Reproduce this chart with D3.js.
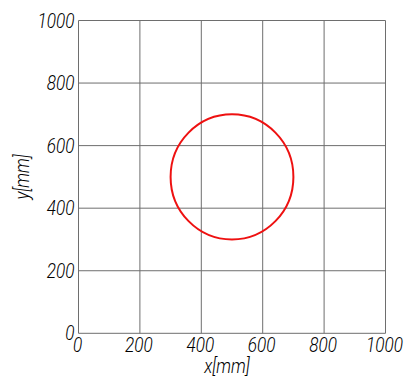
<!DOCTYPE html>
<html>
<head>
<meta charset="utf-8">
<script src="https://cdn.jsdelivr.net/npm/d3@7"></script>
<style>
	body { margin: 0; background: #fff; }
	svg text { font-family: Roboto, "DejaVu Sans Condensed", sans-serif; font-style: italic; font-weight: 300; fill: #000; }
</style>
</head>
<body>
<div id="content"></div>
<script>
// chart data
let X_TICKS = [0, 200, 400, 600, 800, 1000]
let Y_TICKS = [0, 200, 400, 600, 800, 1000]
let X_DOMAIN = [0, 1000]
let Y_DOMAIN = [0, 1000]
let CIRCLE_CENTER = [500, 500]
let CIRCLE_RADIUS = [200]
let X_LABEL = 'x[mm]'
let Y_LABEL = 'y[mm]'

let WIDTH = 408
let HEIGHT = 379
let PLOT = { left: 78.5, right: 385.5, top: 20.5, bottom: 333.3 }
let FONT_SIZE = 19.5
let SQUEEZE = 0.88

let svg = d3.select('#content').append('svg')
	.attr('width', WIDTH)
	.attr('height', HEIGHT)

let x = d3.scaleLinear().domain(X_DOMAIN).range([PLOT.left, PLOT.right])
let y = d3.scaleLinear().domain(Y_DOMAIN).range([PLOT.bottom, PLOT.top])

// grid
let grid = svg.append('g').attr('class', 'grid')
	.attr('stroke', '#6e6e6e')
	.attr('stroke-width', 1)

grid.selectAll('line.vx')
	.data(X_TICKS)
	.enter().append('line')
		.attr('class', 'vx')
		.attr('x1', (d) => { return x(d) })
		.attr('x2', (d) => { return x(d) })
		.attr('y1', y(Y_DOMAIN[0]))
		.attr('y2', y(Y_DOMAIN[1]))

grid.selectAll('line.hy')
	.data(Y_TICKS)
	.enter().append('line')
		.attr('class', 'hy')
		.attr('y1', (d) => { return y(d) })
		.attr('y2', (d) => { return y(d) })
		.attr('x1', x(X_DOMAIN[0]))
		.attr('x2', x(X_DOMAIN[1]))

// tick labels (narrowed a bit to look like the condensed drafting font)
svg.selectAll('text.xtick')
	.data(X_TICKS)
	.enter().append('text')
		.attr('class', 'xtick')
		.attr('transform', (d) => { return `translate(${x(d) - 1}, ${PLOT.bottom + 19}) scale(${SQUEEZE}, 1)` })
		.attr('text-anchor', 'middle')
		.style('font-size', `${FONT_SIZE}px`)
		.text((d) => { return d })

svg.selectAll('text.ytick')
	.data(Y_TICKS)
	.enter().append('text')
		.attr('class', 'ytick')
		.attr('transform', (d) => { return `translate(${PLOT.left - 4}, ${y(d)}) scale(${SQUEEZE}, 1)` })
		.attr('dy', '0.36em')
		.attr('text-anchor', 'end')
		.style('font-size', `${FONT_SIZE}px`)
		.text((d) => { return d })

// axis titles
svg.append('text')
	.attr('transform', `translate(${(PLOT.left + PLOT.right) / 2 - 5}, 373) scale(${SQUEEZE}, 1)`)
	.attr('text-anchor', 'middle')
	.style('font-size', `${FONT_SIZE}px`)
	.text(X_LABEL)

svg.append('text')
	.attr('transform', `translate(29, ${(PLOT.top + PLOT.bottom) / 2}) rotate(-90) scale(${SQUEEZE}, 1)`)
	.attr('text-anchor', 'middle')
	.style('font-size', `${FONT_SIZE}px`)
	.text(Y_LABEL)

// circle
svg.append('ellipse')
	.attr('cx', x(CIRCLE_CENTER[0]))
	.attr('cy', y(CIRCLE_CENTER[1]))
	.attr('rx', x(CIRCLE_CENTER[0] + CIRCLE_RADIUS[0]) - x(CIRCLE_CENTER[0]))
	.attr('ry', y(CIRCLE_CENTER[1]) - y(CIRCLE_CENTER[1] + CIRCLE_RADIUS[0]))
	.attr('fill', 'none')
	.attr('stroke', '#ee1111')
	.attr('stroke-width', 2)
</script>
</body>
</html>
